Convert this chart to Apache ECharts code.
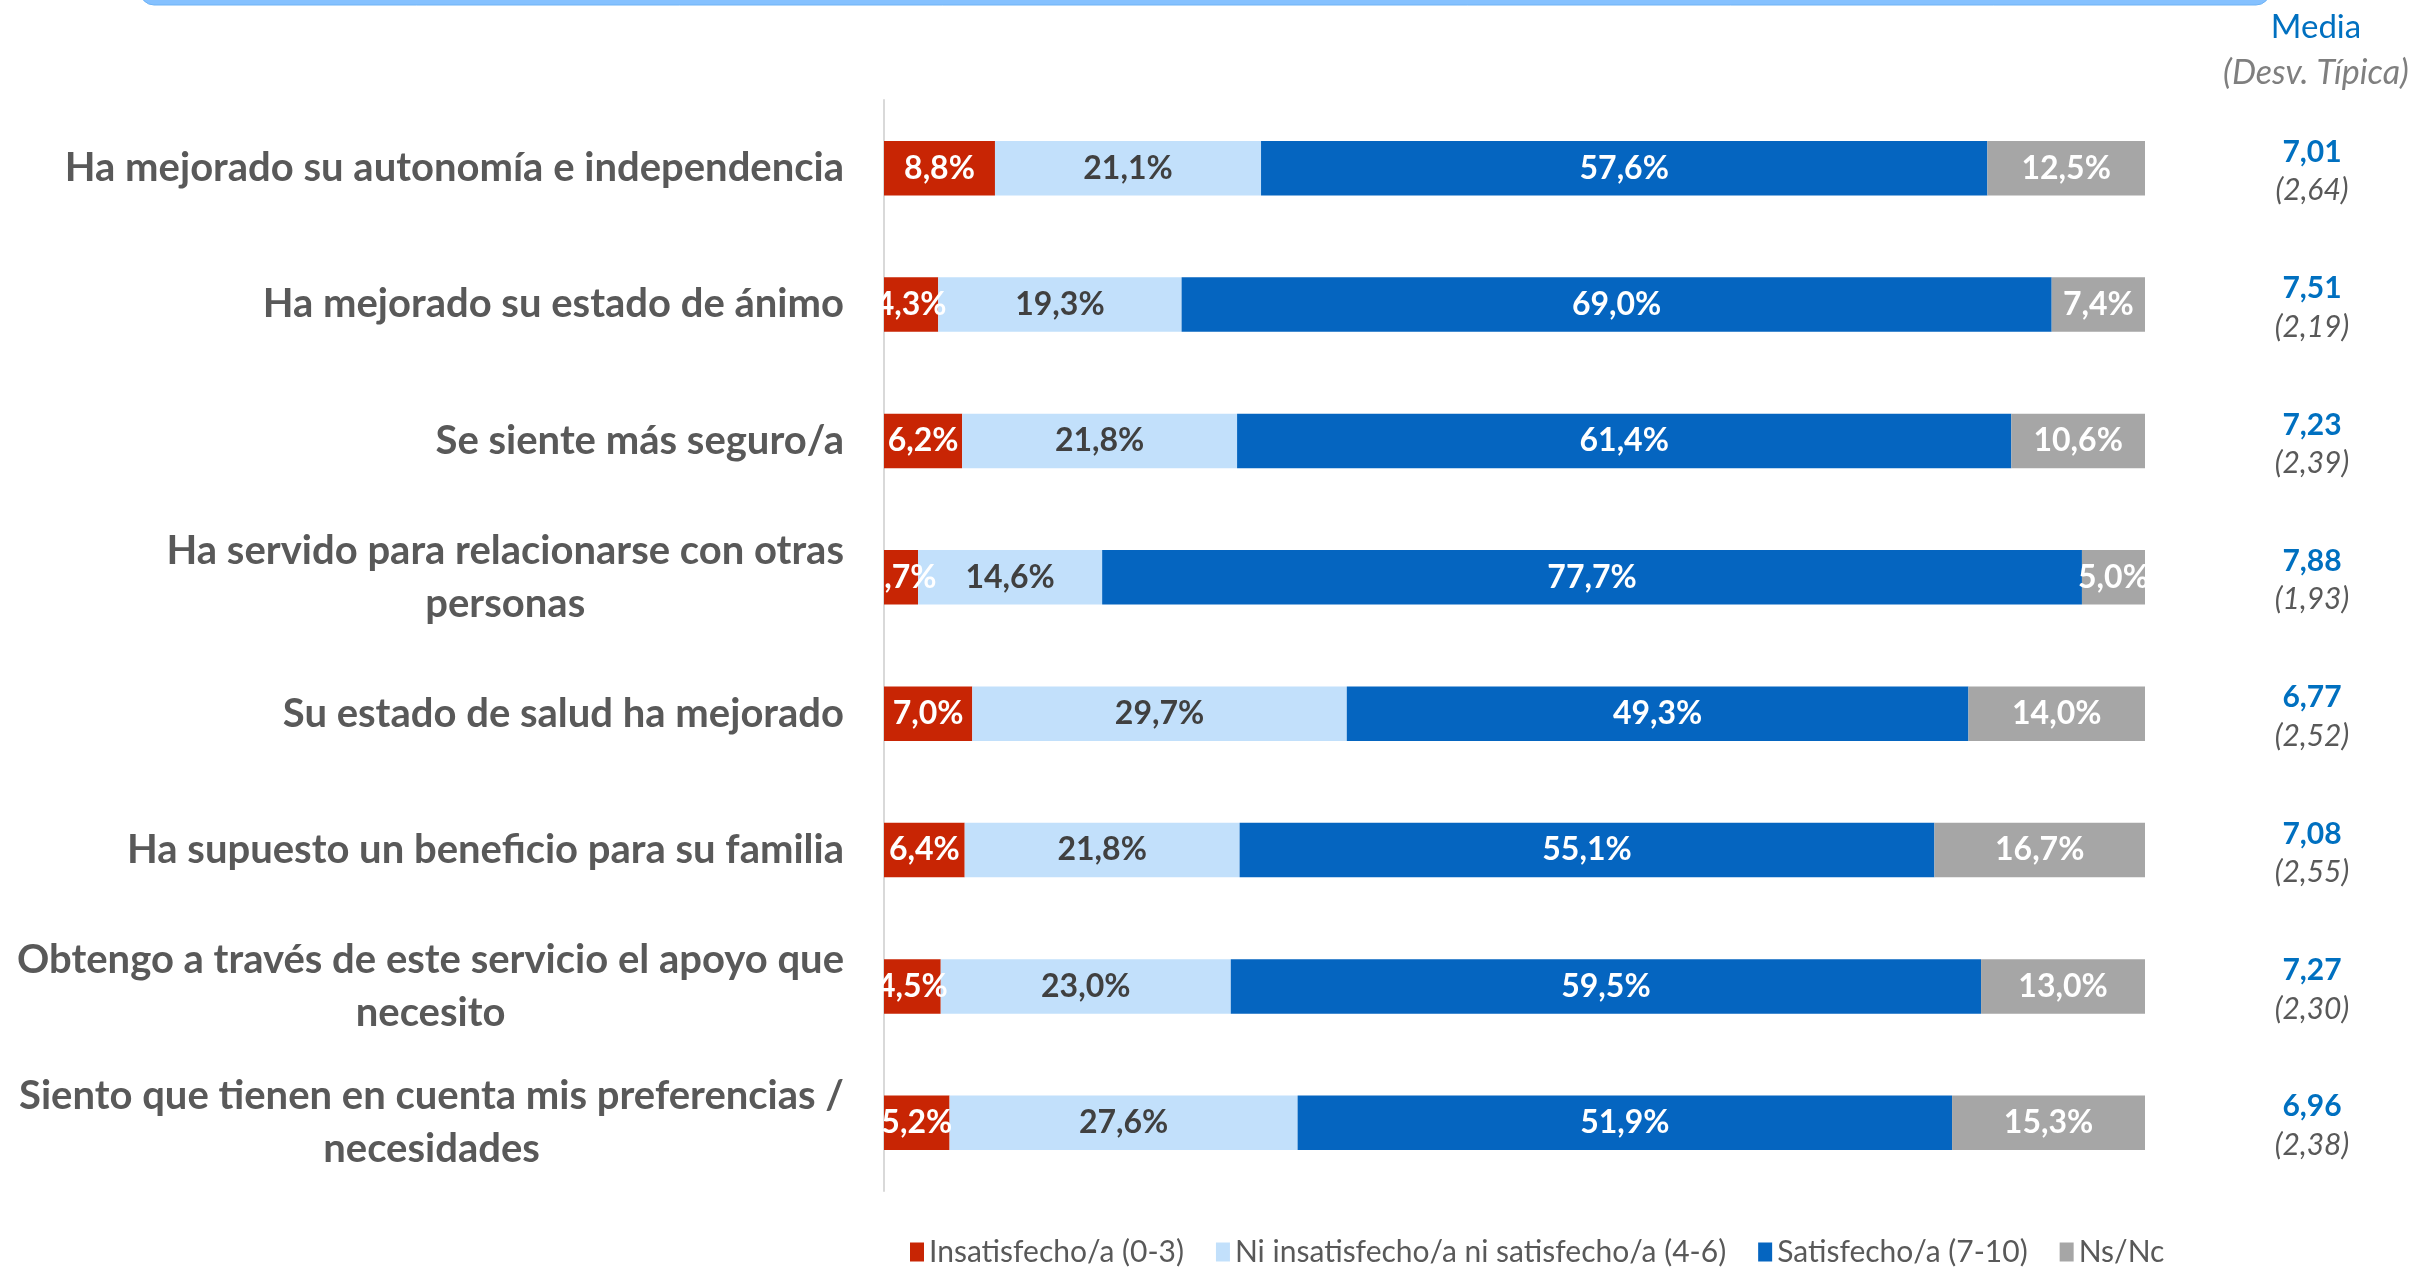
<!DOCTYPE html>
<html>
<head>
<meta charset="utf-8">
<script src="https://cdn.jsdelivr.net/npm/echarts@6/dist/echarts.min.js"></script>
<style>
  html, body { margin: 0; padding: 0; background: #fff; }
  #chart { width: 2433px; height: 1270px; }
</style>
</head>
<body>
<div id="chart"></div>
<script>
// categorías (de arriba a abajo)
var categories = [
    'Ha mejorado su autonomía e independencia',
    'Ha mejorado su estado de ánimo',
    'Se siente más seguro/a',
    'Ha servido para relacionarse con otras\npersonas',
    'Su estado de salud ha mejorado',
    'Ha supuesto un beneficio para su familia',
    'Obtengo a través de este servicio el apoyo que\nnecesito',
    'Siento que tienen en cuenta mis preferencias /\nnecesidades'
];
var seriesNames = ['Insatisfecho/a (0-3)', 'Ni insatisfecho/a ni satisfecho/a (4-6)', 'Satisfecho/a (7-10)', 'Ns/Nc'];
var insatisfecho = [8.8, 4.3, 6.2, 2.7, 7.0, 6.4, 4.5, 5.2];
var neutro       = [21.1, 19.3, 21.8, 14.6, 29.7, 21.8, 23.0, 27.6];
var satisfecho   = [57.6, 69.0, 61.4, 77.7, 49.3, 55.1, 59.5, 51.9];
var nsnc         = [12.5, 7.4, 10.6, 5.0, 14.0, 16.7, 13.0, 15.3];
var media        = [7.01, 7.51, 7.23, 7.88, 6.77, 7.08, 7.27, 6.96];
var desv         = [2.64, 2.19, 2.39, 1.93, 2.52, 2.55, 2.30, 2.38];

var colores = ['#C82504', '#C2E0FB', '#0565C0', '#A6A6A6'];
var coloresLabel = ['#ffffff', '#404040', '#ffffff', '#ffffff'];
var fuente = 'Lato';

function coma(v, d) {
    return v.toFixed(d).replace('.', ',');
}

var datos = [insatisfecho, neutro, satisfecho, nsnc];
var series = datos.map(function (d, i) {
    return {
        name: seriesNames[i],
        type: 'bar',
        stack: 'total',
        barWidth: '40%',
        itemStyle: { color: colores[i] },
        label: {
            show: true,
            position: 'inside',
            color: coloresLabel[i],
            fontFamily: fuente,
            fontWeight: 'bold',
            fontSize: 32,
            formatter: function (p) { return coma(p.value, 1) + '%'; }
        },
        data: d
    };
});

var chart = echarts.init(document.getElementById('chart'));
chart.setOption({
    animation: false,
    title: [
        {
            text: 'Media', left: 2311, top: 6, textAlign: 'center',
            textStyle: { color: '#0070C0', fontFamily: fuente, fontWeight: 'normal', fontSize: 33 }
        },
        {
            text: '(Desv. Típica)', left: 2311, top: 51, textAlign: 'center',
            textStyle: { color: '#7F7F7F', fontFamily: fuente, fontStyle: 'italic', fontWeight: 'normal', fontSize: 34 }
        }
    ],
    graphic: [{
        type: 'rect',
        shape: { x: 140, y: -24, width: 2130, height: 29, r: 14 },
        style: { fill: '#85C1FF', stroke: '#6FB3F5', lineWidth: 1 }
    }],
    legend: {
        data: seriesNames,
        left: 905,
        top: 1232,
        icon: 'rect',
        itemWidth: 14,
        itemHeight: 19,
        itemGap: 32,
        textStyle: { color: '#595959', fontFamily: fuente, fontSize: 30 }
    },
    grid: { left: 884, right: 288, top: 100, bottom: 79 },
    xAxis: { type: 'value', min: 0, max: 100, show: false },
    yAxis: [
        {
            type: 'category',
            data: categories,
            inverse: true,
            axisLine: { show: true, lineStyle: { color: '#D9D9D9', width: 2 } },
            axisTick: { show: false },
            axisLabel: {
                margin: 40,
                align: 'right',
                formatter: function (v) {
                    return v.split('\n').map(function (l) { return '{c|' + l + '}'; }).join('\n');
                },
                rich: {
                    c: { align: 'center', color: '#595959', fontFamily: fuente, fontWeight: 'bold', fontSize: 40, lineHeight: 53 }
                }
            }
        },
        {
            type: 'category',
            data: categories,
            inverse: true,
            position: 'right',
            axisLine: { show: false },
            axisTick: { show: false },
            axisLabel: {
                margin: 167,
                align: 'center',
                formatter: function (v, i) {
                    return '{m|' + coma(media[i], 2) + '}\n{s|(' + coma(desv[i], 2) + ')}';
                },
                rich: {
                    m: { color: '#0070C0', fontFamily: fuente, fontWeight: 'bold', fontSize: 30, lineHeight: 45, align: 'center' },
                    s: { color: '#595959', fontFamily: fuente, fontStyle: 'italic', fontSize: 30, lineHeight: 32, align: 'center' }
                }
            }
        }
    ],
    series: series
});
</script>
</body>
</html>
